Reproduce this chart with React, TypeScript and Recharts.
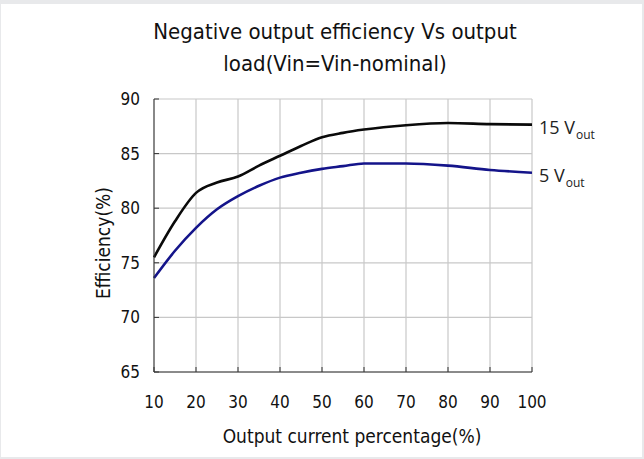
import React from 'react';
import { LineChart, Line, XAxis, YAxis, CartesianGrid, Label } from 'recharts';

const loadPct = [10, 15, 20, 25, 30, 35, 40, 45, 50, 55, 60, 70, 80, 90, 100];
const eff15V = [75.5, 78.8, 81.4, 82.35, 82.9, 83.9, 84.8, 85.7, 86.5, 86.9, 87.2, 87.6, 87.8, 87.7, 87.65];
const eff5V = [73.6, 76.1, 78.2, 79.9, 81.1, 82.05, 82.8, 83.25, 83.6, 83.85, 84.1, 84.1, 83.9, 83.5, 83.25];
const xTicks = [10, 20, 30, 40, 50, 60, 70, 80, 90, 100];
const yTicks = [65, 70, 75, 80, 85, 90];

const data = loadPct.map((x, i) => ({ load: x, v15: eff15V[i], v5: eff5V[i] }));

const tickFont = "'Liberation Sans Narrow', 'DejaVu Sans Condensed', sans-serif";

const endLabel = (main: string) => (props: any) => {
  const { x, y, index } = props;
  if (index !== data.length - 1) return null;
  return (
    <text x={x + 7} y={y + 9} fontSize={18} fill="#222" fontFamily="'Open Sans', sans-serif">
      {main}
      <tspan dx={1} dy={5} fontSize={12}>out</tspan>
    </text>
  );
};

const App: React.FC = () => {
  return (
    <div style={{ position: 'absolute', left: 0, top: 0, width: 644, height: 459, background: '#e8e9eb' }}>
      <div style={{ position: 'absolute', left: 1, top: 4, width: 641, height: 453, background: '#fff' }} />
      <div
        style={{
          position: 'absolute',
          left: 135,
          top: 16,
          width: 400,
          textAlign: 'center',
          fontFamily: tickFont,
          fontSize: 22,
          lineHeight: '32px',
          color: '#111',
        }}
      >
        Negative output efficiency Vs output
        <br />
        load(Vin=Vin-nominal)
      </div>
      <div style={{ position: 'absolute', left: 0, top: 0 }}>
        <LineChart width={644} height={459} data={data} margin={{ top: 99, right: 112, bottom: 0, left: 0 }}>
          <CartesianGrid stroke="#c8c8c8" strokeWidth={1.2} />
          <XAxis
            dataKey="load"
            type="number"
            domain={[10, 100]}
            ticks={xTicks}
            height={87}
            stroke="#333"
            tickSize={-5}
            tickMargin={29}
            tick={{ fill: '#111', fontSize: 17, fontFamily: tickFont }}
          >
            <Label
              content={() => (
                <text x={352} y={443} textAnchor="middle" fontSize={19} fill="#111" fontFamily={tickFont}>
                  Output current percentage(%)
                </text>
              )}
            />
          </XAxis>
          <YAxis
            type="number"
            domain={[65, 90]}
            ticks={yTicks}
            width={154}
            stroke="#333"
            tickSize={-5}
            tickMargin={19}
            tick={{ fill: '#111', fontSize: 17, fontFamily: tickFont }}
          >
            <Label
              content={() => (
                <text
                  x={103}
                  y={243}
                  textAnchor="middle"
                  dominantBaseline="central"
                  transform="rotate(-90 103 243)"
                  fontSize={19}
                  fill="#111"
                  fontFamily={tickFont}
                >
                  Efficiency(%)
                </text>
              )}
            />
          </YAxis>
          <Line
            dataKey="v15"
            type="monotone"
            stroke="#0a0a0a"
            strokeWidth={2.6}
            dot={false}
            isAnimationActive={false}
            label={endLabel('15 V')}
          />
          <Line
            dataKey="v5"
            type="monotone"
            stroke="#14148a"
            strokeWidth={2.6}
            dot={false}
            isAnimationActive={false}
            label={endLabel('5 V')}
          />
        </LineChart>
      </div>
    </div>
  );
};

export default App;
